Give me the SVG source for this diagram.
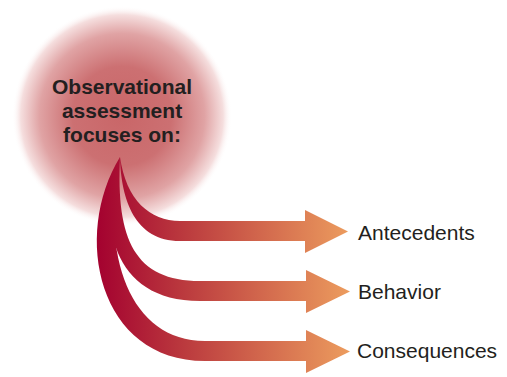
<svg xmlns="http://www.w3.org/2000/svg" width="507" height="377" viewBox="0 0 507 377">
  <defs>
    <radialGradient id="glow" cx="122" cy="116" r="110" gradientUnits="userSpaceOnUse">
      <stop offset="0" stop-color="#c96668"/>
      <stop offset="0.45" stop-color="#cc7072"/>
      <stop offset="0.75" stop-color="#e0a3a4"/>
      <stop offset="0.92" stop-color="#f5dede"/>
      <stop offset="1" stop-color="#ffffff" stop-opacity="0"/>
    </radialGradient>
    <linearGradient id="arrowGrad" x1="95" y1="0" x2="350" y2="0" gradientUnits="userSpaceOnUse">
      <stop offset="0" stop-color="#a3002f"/>
      <stop offset="0.35" stop-color="#bb3a3e"/>
      <stop offset="1" stop-color="#ec9c5e"/>
    </linearGradient>
    <style>
      .title { font-family: "Liberation Sans", Arial, sans-serif; font-weight: bold; font-size: 21px; fill: #231f20; text-anchor: middle; }
      .label { font-family: "Liberation Sans", Arial, sans-serif; font-size: 21px; fill: #231f20; }
      .arrow { fill: url(#arrowGrad); }
    </style>
  </defs>
  <rect width="507" height="377" fill="#ffffff"/>
  <g id="source">
    <circle cx="122" cy="116" r="110" fill="url(#glow)"/>
    <text class="title" x="122" y="94">Observational</text>
    <text class="title" x="122" y="118">assessment</text>
    <text class="title" x="122" y="142">focuses on:</text>
  </g>
  <g id="connectors">
    <path class="arrow" d="M120,157 C121,200 135,241 180,241 L305,241 L305,253 L348,231.5 L305,210 L305,221 L180,221 C150,221 126,200 120,157 Z"/>
    <path class="arrow" d="M120,157 C98,220 110,301 200,301 L306,301 L306,313 L350,291.5 L306,270 L306,281 L200,281 C135,281 116,240 120,157 Z"/>
    <path class="arrow" d="M120,157 C72,235 98,361 205,361 L306,361 L306,373 L350,351.5 L306,330 L306,341 L205,341 C130,341 100,255 120,157 Z"/>
  </g>
  <g id="antecedents">
    <text class="label" x="358" y="240">Antecedents</text>
  </g>
  <g id="behavior">
    <text class="label" x="358" y="299">Behavior</text>
  </g>
  <g id="consequences">
    <text class="label" x="357" y="358">Consequences</text>
  </g>
</svg>
